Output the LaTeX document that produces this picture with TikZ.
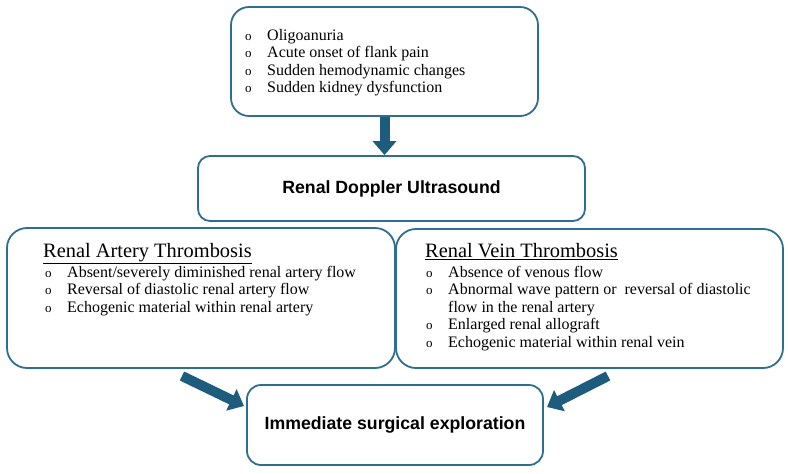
\documentclass[tikz,border=0pt]{standalone}
\usepackage{fontspec}
\setmainfont{Liberation Serif}
\setsansfont{Liberation Sans}
\definecolor{boxBlue}{RGB}{46, 110, 142}
\definecolor{arrowBlue}{RGB}{30, 92, 126}
\usetikzlibrary{arrows.meta, positioning}

\newcommand{\bul}{{\fontsize{13pt}{13pt}\selectfont o}}

\begin{document}
\begin{tikzpicture}[x=1pt, y=-1pt,
    box/.style={draw=boxBlue, line width=1.8pt, fill=white, inner sep=0pt},
    big/.style={font=\sffamily\bfseries\fontsize{17.7pt}{20pt}\selectfont, align=center},
    hdr/.style={anchor=base west, inner sep=0pt, font=\fontsize{20.4pt}{22pt}\selectfont},
    lst/.style={anchor=base west, inner sep=0pt, font=\fontsize{16pt}{17.5pt}\selectfont},
    arr/.style={-{Triangle[length=14pt, width=23pt]}, line width=10pt, arrowBlue}
  ]
    \useasboundingbox (0,0) rectangle (788,474);

    % Symptoms
    \node[box, rounded corners=18pt, minimum width=307pt, minimum height=109pt] (symptoms) at (384.5, 61.5) {};
    \node[lst] (symlist) at (245, 40) {\begin{tabular}[t]{@{}p{22pt}@{}l@{}}
        \bul & Oligoanuria\\
        \bul & Acute onset of flank pain\\
        \bul & Sudden hemodynamic changes\\
        \bul & Sudden kidney dysfunction
      \end{tabular}};

    % Doppler
    \node[box, big, rounded corners=12pt, minimum width=387pt, minimum height=65pt] (doppler) at (391.5, 188.5) {Renal Doppler Ultrasound};

    % Artery
    \node[box, rounded corners=20pt, minimum width=388pt, minimum height=140pt] (artery) at (201, 298) {};
    \node[hdr] (arteryhdr) at (43, 257) {\underline{Renal Artery Thrombosis}};
    \node[lst] (arterylist) at (45, 277) {\begin{tabular}[t]{@{}p{22pt}@{}l@{}}
        \bul & Absent/severely diminished renal artery flow\\
        \bul & Reversal of diastolic renal artery flow\\
        \bul & Echogenic material within renal artery
      \end{tabular}};

    % Vein
    \node[box, rounded corners=20pt, minimum width=387pt, minimum height=139pt] (vein) at (589.5, 298.5) {};
    \node[hdr] (veinhdr) at (425, 257) {\underline{Renal Vein Thrombosis}};
    \node[lst] (veinlist) at (426, 277) {\begin{tabular}[t]{@{}p{22pt}@{}l@{}}
        \bul & Absence of venous flow\\
        \bul & Abnormal wave pattern or \ reversal of diastolic\\
             & flow in the renal artery\\
        \bul & Enlarged renal allograft\\
        \bul & Echogenic material within renal vein
      \end{tabular}};

    % Surgery
    \node[box, big, rounded corners=14pt, minimum width=296pt, minimum height=80pt] (surgery) at (395, 425) {Immediate surgical exploration};

    \coordinate (arteryout) at (182, 376);
    \coordinate (surgeryinl) at (244, 406);
    \coordinate (veinout) at (608, 376);
    \coordinate (surgeryinr) at (547, 407);

    \draw[arr] (symptoms.south) -- (symptoms.south |- doppler.north);
    \draw[arr] (arteryout) -- (surgeryinl);
    \draw[arr] (veinout) -- (surgeryinr);
  \end{tikzpicture}
\end{document}
